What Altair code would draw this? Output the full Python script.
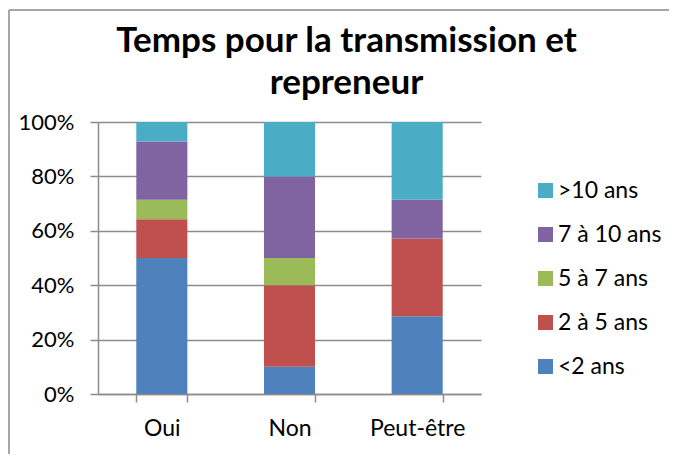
import altair as alt
import pandas as pd

categories = ["Oui", "Non", "Peut-être"]
series = ["<2 ans", "2 à 5 ans", "5 à 7 ans", "7 à 10 ans", ">10 ans"]
counts = {
    "<2 ans": [7, 1, 2],
    "2 à 5 ans": [2, 3, 2],
    "5 à 7 ans": [1, 1, 0],
    "7 à 10 ans": [3, 3, 1],
    ">10 ans": [1, 2, 2],
}
colors = ["#4F81BD", "#C0504D", "#9BBB59", "#8064A2", "#4BACC6"]
y_ticks = [0, 0.2, 0.4, 0.6, 0.8, 1.0]

rows = []
for si, s in enumerate(series):
    for ci, c in enumerate(categories):
        rows.append({"cat": c, "serie": s, "n": counts[s][ci], "idx": si})
df = pd.DataFrame(rows)

FONT = "Lato"
GRID = "#8c8c8c"

bars = alt.Chart(df).mark_bar().encode(
    x=alt.X("cat:N", sort=categories,
            scale=alt.Scale(paddingInner=0.6, paddingOuter=0.3),
            axis=alt.Axis(title=None, labelAngle=0, tickBand="extent", tickSize=8,
                          tickColor=GRID, domainColor=GRID, tickWidth=1.5, domainWidth=1.5,
                          labelFont=FONT, labelFontSize=23, labelColor="#000000",
                          labelPadding=15, grid=False)),
    y=alt.Y("n:Q", stack="normalize",
            scale=alt.Scale(domain=[0, 1]),
            axis=alt.Axis(title=None, values=y_ticks, format=".0%", tickSize=8,
                          tickColor=GRID, domainColor=GRID, gridColor=GRID,
                          tickWidth=1.5, domainWidth=1.5, gridWidth=1.5,
                          labelFont=FONT, labelFontSize=22, labelColor="#000000",
                          labelPadding=16)),
    color=alt.Color("serie:N",
                    scale=alt.Scale(domain=series[::-1], range=colors[::-1]),
                    legend=alt.Legend(title=None, orient="none", legendX=436, legendY=57,
                                      symbolType="square", symbolSize=225,
                                      symbolStrokeWidth=0, labelFont=FONT,
                                      labelFontSize=23, labelColor="#000000",
                                      rowPadding=20, labelOffset=1)),
    order=alt.Order("idx:Q", sort="ascending"),
)

frame_left = alt.Chart(df).mark_rule(color="#a6a6a6", strokeWidth=2).encode(
    x=alt.value(-89), y=alt.value(-112), y2=alt.value(360))
frame_top = alt.Chart(df).mark_rule(color="#a6a6a6", strokeWidth=2).encode(
    x=alt.value(-89), x2=alt.value(600), y=alt.value(-112))

chart = alt.layer(bars, frame_left, frame_top).properties(
    width=383, height=272,
    title=alt.Title(["Temps pour la transmission et", "repreneur"],
                    font=FONT, fontSize=35, fontWeight="bold", color="#000000",
                    anchor="middle", dx=57, offset=-92, lineHeight=42),
    autosize=alt.AutoSizeParams(type="none"),
    padding={"left": 90, "top": 114, "right": 188, "bottom": 60},
).configure_view(stroke=None)

chart.save("out.html", embed_options={"renderer": "svg", "actions": False})
